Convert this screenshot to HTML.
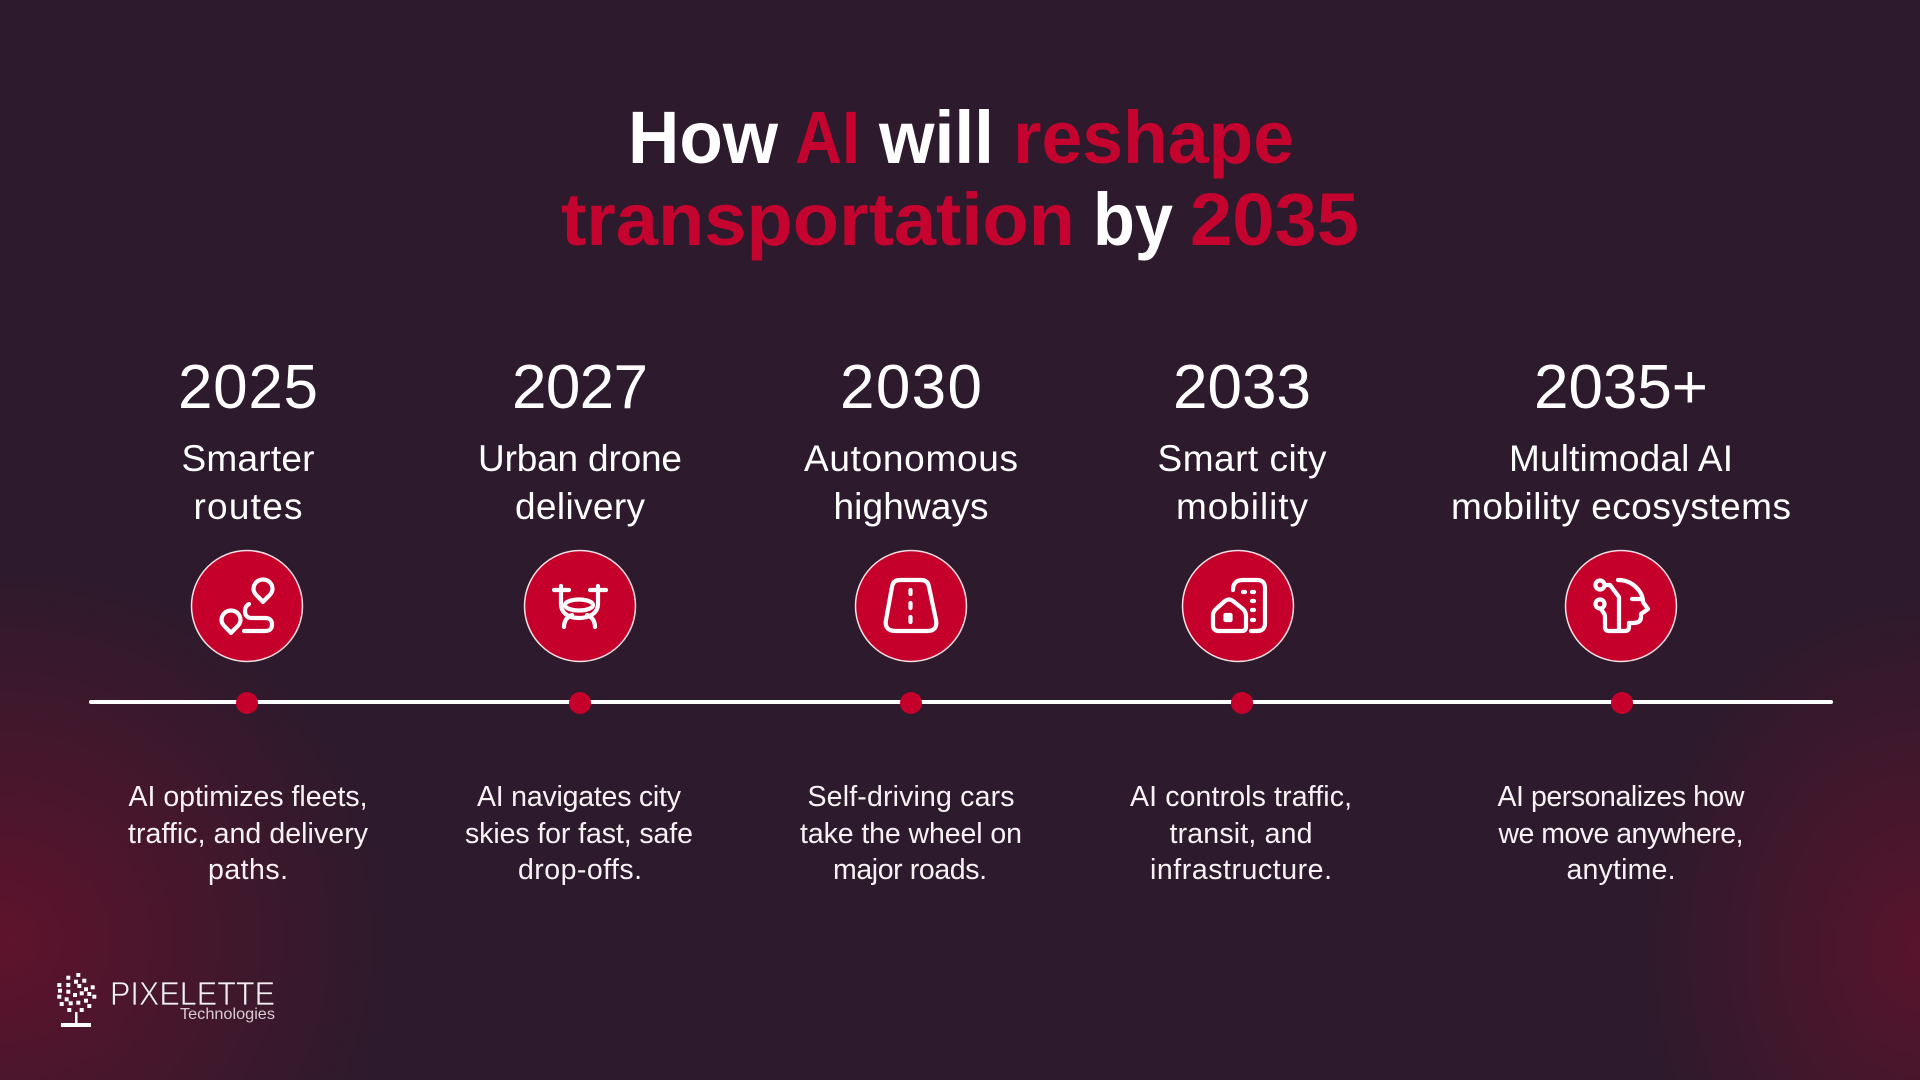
<!DOCTYPE html>
<html lang="en">
<head>
<meta charset="utf-8">
<title>How AI will reshape transportation by 2035</title>
<style>
html,body{margin:0;padding:0;width:1920px;height:1080px;overflow:hidden;background:#2d1a2c}
#slide{position:absolute;left:0;top:0;width:1920px;height:1080px;background:
radial-gradient(ellipse 390px 370px at 0px 940px,rgba(125,15,45,.62),rgba(125,15,45,0) 100%),
radial-gradient(ellipse 280px 350px at 1920px 950px,rgba(125,15,45,.54),rgba(125,15,45,0) 100%),
#2d1a2c}
svg{position:absolute;left:0;top:0}
text{font-family:"Liberation Sans",sans-serif;fill:#fff;text-anchor:middle}
.year{font-size:62px}
.sub{font-size:37px}
.desc{font-size:28.5px;fill:#f8f2f5}
.ttl{font-size:74px;font-weight:700;text-anchor:start}
.r{fill:#c4042e}
.ic{fill:none;stroke:#fff;stroke-width:4.2;stroke-linecap:round;stroke-linejoin:round}
.node{fill:#c4002b;stroke:#f5dfe3;stroke-width:1.5}
.dot{fill:#c4002b}
.leaf{fill:#fff}
</style>
</head>
<body>
<div id="slide">
<svg width="1920" height="1080" viewBox="0 0 1920 1080">

<g>
<text class="ttl" x="628" y="163" textLength="150" lengthAdjust="spacingAndGlyphs">How</text>
<text class="ttl r" x="795" y="163" textLength="65" lengthAdjust="spacingAndGlyphs">AI</text>
<text class="ttl" x="879" y="163" textLength="115" lengthAdjust="spacingAndGlyphs">will</text>
<text class="ttl r" x="1013" y="163" textLength="281" lengthAdjust="spacingAndGlyphs">reshape</text>
<text class="ttl r" x="561" y="245" textLength="514" lengthAdjust="spacingAndGlyphs">transportation</text>
<text class="ttl" x="1093" y="245" textLength="80" lengthAdjust="spacingAndGlyphs">by</text>
<text class="ttl r" x="1190" y="245" textLength="169" lengthAdjust="spacingAndGlyphs">2035</text>
</g>

<g>
<text class="year" x="248" y="408" textLength="140">2025</text>
<text class="sub" x="248" y="471" textLength="133">Smarter</text>
<text class="sub" x="248" y="519" textLength="109">routes</text>
</g>
<g>
<text class="year" x="580" y="408" textLength="136">2027</text>
<text class="sub" x="580" y="471" textLength="204">Urban drone</text>
<text class="sub" x="580" y="519" textLength="130">delivery</text>
</g>
<g>
<text class="year" x="911" y="408" textLength="142">2030</text>
<text class="sub" x="911" y="471" textLength="214">Autonomous</text>
<text class="sub" x="911" y="519" textLength="155">highways</text>
</g>
<g>
<text class="year" x="1242" y="408" textLength="138">2033</text>
<text class="sub" x="1242" y="471" textLength="169">Smart city</text>
<text class="sub" x="1242" y="519" textLength="132">mobility</text>
</g>
<g>
<text class="year" x="1621" y="408" textLength="174">2035+</text>
<text class="sub" x="1621" y="471" textLength="224">Multimodal AI</text>
<text class="sub" x="1621" y="519" textLength="340">mobility ecosystems</text>
</g>

<g transform="translate(247,606)">
<circle class="node" r="55.5"/>
<g class="ic">
<path d="M16 -4C12 -9 6.500 -12 6.500 -17A9.500 9.500 0 0 1 25.500 -17C25.500 -12 20 -9 16 -4Z"/>
<path d="M-16 27C-20 22 -25.500 19 -25.500 14A9.500 9.500 0 0 1 -6.500 14C-6.500 19 -12 22 -16 27Z"/>
<path d="M2 -2Q-2 0 -2 5Q-2 12 5 12L18 12Q25 12 25 18.500Q25 25 18 25L-3 25"/>
</g>
</g>
<g transform="translate(580,606)">
<circle class="node" r="55.500"/>
<g class="ic">
<path d="M-26 -16L-11 -16M-19 -20L-19 -2C-19 6 -13 12 -1 12C11 12 18 6 18 -2L18 -20M10 -16L26 -16"/>
<ellipse cx="-1" cy="-1" rx="14" ry="5.500"/>
<path d="M-16 21C-16 15 -13 11 -8 9M15 21C15 15 12 11 7 9"/>
</g>
</g>
<g transform="translate(911,606)">
<circle class="node" r="55.500"/>
<g class="ic">
<path d="M-11 -26L10 -26Q17 -26 18 -19L25 14Q27 25 16 25L-15 25Q-27 25 -25 14L-19 -19Q-18 -26 -11 -26Z"/>
<path d="M-0.500 -16L-0.500 -12M-0.500 -3L-0.500 2M-0.500 11L-0.500 16"/>
</g>
</g>
<g transform="translate(1238,606)">
<circle class="node" r="55.500"/>
<g class="ic">
<path d="M-13 -5Q-9 -8 -5 -5L5 3Q8 6 8 10L8 21Q8 25 4 25L-19 25Q-25 25 -25 19L-25 9Q-25 6 -22 3Z"/>
<rect x="-12.500" y="9" width="5" height="5" fill="#fff"/>
<path d="M-5 -16Q-5 -26 5 -26L19 -26Q27 -26 27 -18L27 17Q27 25 19 25L13 25"/>
<path d="M5 -14L7 -14M14 -14L16 -14M14 -5L16 -5M14 4L16 4M14 14L16 14"/>
</g>
</g>
<g transform="translate(1621,606)">
<circle class="node" r="55.500"/>
<g class="ic">
<circle cx="-21" cy="-21" r="4.500"/>
<circle cx="-21" cy="-2" r="4.500"/>
<path d="M-16 -21L-11 -21L-2 -9L-2 24"/>
<path d="M-3 -26C12 -26 22 -14 22 -4L27 3L20 8L20 11Q20 17 12 17L8 17L8 21Q8 25 4 25L-12 25Q-16 25 -16 21L-16 11Q-16 8 -18 6L-20 3"/>
<path d="M11 -7L19 -7"/>
</g>
</g>

<g>
<rect x="89" y="700" width="1744" height="4" rx="2" fill="#fff"/>
<circle class="dot" cx="247" cy="703" r="11"/>
<circle class="dot" cx="580" cy="703" r="11"/>
<circle class="dot" cx="911" cy="703" r="11"/>
<circle class="dot" cx="1242" cy="703" r="11"/>
<circle class="dot" cx="1622" cy="703" r="11"/>
</g>

<g>
<text class="desc" x="248" y="806" textLength="239">AI optimizes fleets,</text>
<text class="desc" x="248" y="843" textLength="240">traffic, and delivery</text>
<text class="desc" x="248" y="879" textLength="80">paths.</text>
</g>
<g>
<text class="desc" x="579" y="806" textLength="204">AI navigates city</text>
<text class="desc" x="579" y="843" textLength="228">skies for fast, safe</text>
<text class="desc" x="580" y="879" textLength="124">drop-offs.</text>
</g>
<g>
<text class="desc" x="911" y="806" textLength="207">Self-driving cars</text>
<text class="desc" x="911" y="843" textLength="222">take the wheel on</text>
<text class="desc" x="910" y="879" textLength="154">major roads.</text>
</g>
<g>
<text class="desc" x="1241" y="806" textLength="222">AI controls traffic,</text>
<text class="desc" x="1241" y="843" textLength="143">transit, and</text>
<text class="desc" x="1241" y="879" textLength="182">infrastructure.</text>
</g>
<g>
<text class="desc" x="1621" y="806" textLength="247">AI personalizes how</text>
<text class="desc" x="1621" y="843" textLength="245">we move anywhere,</text>
<text class="desc" x="1621" y="879" textLength="109">anytime.</text>
</g>

<g>
<g class="leaf">
<rect x="76.300" y="973" width="4" height="4"/><rect x="66.300" y="975.700" width="4" height="4"/><rect x="82.300" y="978.700" width="4" height="4"/>
<rect x="74" y="979.700" width="4" height="4"/><rect x="57.300" y="983" width="4" height="4"/><rect x="66.300" y="983" width="4" height="4"/>
<rect x="77.300" y="984" width="4" height="4"/><rect x="90.700" y="985.300" width="4" height="4"/><rect x="84" y="987.300" width="4" height="4"/>
<rect x="58" y="988.700" width="4" height="4"/><rect x="66.300" y="989.700" width="4" height="4"/><rect x="73" y="993" width="4" height="4"/>
<rect x="87.300" y="992" width="4" height="4"/><rect x="57.300" y="994.700" width="4" height="4"/><rect x="79.700" y="991.300" width="4" height="4"/>
<rect x="64.700" y="997.300" width="4" height="4"/><rect x="92.300" y="994.700" width="4" height="4"/><rect x="84" y="998.700" width="4" height="4"/>
<rect x="76.300" y="1000.700" width="4" height="4"/><rect x="59.700" y="1002" width="4" height="4"/><rect x="68.700" y="1001.300" width="4" height="4"/>
<rect x="87.300" y="1004" width="4" height="4"/><rect x="67.300" y="1008" width="4" height="4"/><rect x="79.700" y="1008" width="4" height="4"/>
<rect x="75" y="1012" width="2.500" height="12"/>
<rect x="61" y="1023" width="30" height="4"/>
</g>
<text x="110" y="1005" textLength="165" lengthAdjust="spacingAndGlyphs" style="font-size:33px;text-anchor:start;fill:#f6eef2;stroke:#3a1a2d;stroke-width:.7px">PIXELETTE</text>
<text x="180" y="1019" textLength="95" lengthAdjust="spacingAndGlyphs" style="font-size:16px;text-anchor:start;fill:#d8cbd2">Technologies</text>
</g>

</svg>
</div>
</body>
</html>
